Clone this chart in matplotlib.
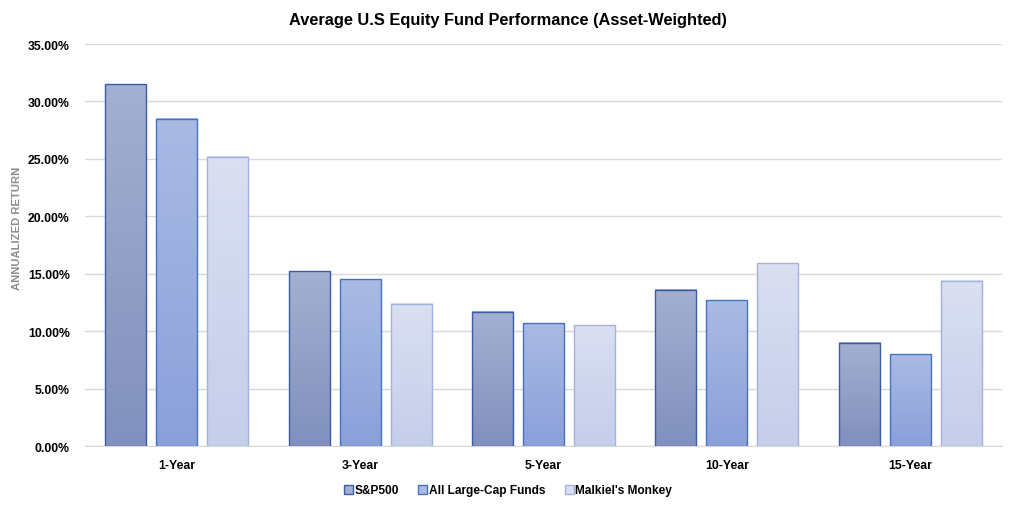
import numpy as np
import matplotlib
matplotlib.use('Agg')
import matplotlib.pyplot as plt
from matplotlib.colors import LinearSegmentedColormap
from matplotlib.patches import Patch
from matplotlib.ticker import FuncFormatter, MultipleLocator

plt.rcParams['font.family'] = ['Liberation Sans', 'DejaVu Sans']

categories = ['1-Year', '3-Year', '5-Year', '10-Year', '15-Year']
series_names = ['S&P500', 'All Large-Cap Funds', "Malkiel's Monkey"]
sp500 = [31.5, 15.2, 11.7, 13.6, 9.0]
large_cap = [28.5, 14.5, 10.7, 12.7, 8.0]
monkey = [25.2, 12.4, 10.5, 15.9, 14.4]

# (top colour, bottom colour, edge)
styles = [
    ('#a3b0d1', '#8190bd', '#3a5ba8'),
    ('#aabae4', '#8aa0da', '#4472c4'),
    ('#dadff1', '#c5ceea', '#a2b2df'),
]

fig = plt.figure(figsize=(10.16, 5.06), dpi=100)
ax = fig.add_axes([85 / 1016, 0.1166, 917 / 1016, 0.7944])

x = np.arange(len(categories))
width = 0.2236
step = 0.278
handles = []
for i, (vals, (top, bot, edge)) in enumerate(zip([sp500, large_cap, monkey], styles)):
    bars = ax.bar(x + (i - 1) * step, vals, width, facecolor='none',
                  edgecolor=edge, linewidth=1.0, zorder=3)
    cmap = LinearSegmentedColormap.from_list(f'g{i}', [bot, top])
    grad = np.linspace(0, 1, 100).reshape(-1, 1)
    for b in bars:
        x0, y0 = b.get_x(), b.get_y()
        ax.imshow(grad, cmap=cmap, origin='lower', aspect='auto',
                  extent=(x0, x0 + b.get_width(), y0, y0 + b.get_height()),
                  zorder=2)
    handles.append(Patch(facecolor=top, edgecolor=edge, label=series_names[i]))

ax.set_xlim(-0.5, len(categories) - 0.5)
ax.set_ylim(0, 35)
ax.yaxis.set_major_locator(MultipleLocator(5))
ax.yaxis.set_major_formatter(FuncFormatter(lambda v, p: f'{v:.2f}%'))
ax.set_xticks(x)
ax.set_xticklabels(categories)
ax.grid(axis='y', color='#d9d9d9', linewidth=1.0, zorder=0)
ax.set_axisbelow(True)
for s in ['top', 'right', 'left']:
    ax.spines[s].set_visible(False)
ax.spines['bottom'].set_color('#d9d9d9')
ax.tick_params(axis='both', length=0, labelsize=8.8, colors='#000000')
ax.tick_params(axis='y', pad=11)
ax.tick_params(axis='x', pad=9)
for lbl in ax.get_xticklabels() + ax.get_yticklabels():
    lbl.set_fontweight('bold')

ax.set_ylabel('ANNUALIZED RETURN', fontsize=8.1, fontweight='bold', color='#8c8c8c')
ax.yaxis.set_label_coords((22 - 85) / 917, 0.545)
fig.text(0.5, 0.96, 'Average U.S Equity Fund Performance (Asset-Weighted)',
         ha='center', va='center', fontsize=11.8, fontweight='bold')

leg = fig.legend(handles=handles, loc='center', bbox_to_anchor=(0.5, 0.029), ncol=3,
                 frameon=False, fontsize=8.6, handlelength=0.75, handleheight=0.75,
                 handletextpad=0.15, columnspacing=1.6)
for t in leg.get_texts():
    t.set_fontweight('bold')

fig.savefig('out.png', dpi=100)
